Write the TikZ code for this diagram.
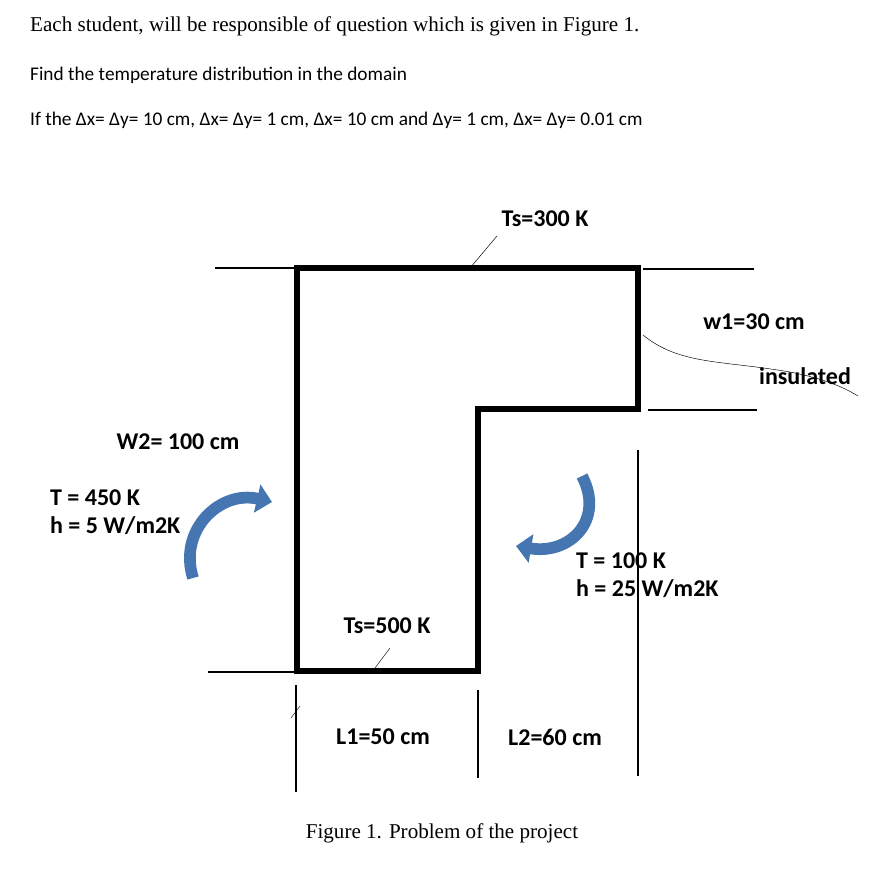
\documentclass[tikz,border=0pt]{standalone}
\usepackage{fontspec}
\setmainfont{Carlito}
\newfontfamily\timesfont{Liberation Serif}
\usepackage{xcolor}
\usetikzlibrary{arrows.meta}

\begin{document}
\begin{tikzpicture}[x=0.03cm,y=-0.03cm,
  label/.style={font=\fontsize{20.5}{24}\selectfont\bfseries},
  wall/.style={line width=4.5pt},
  edge/.style={line width=2.2pt},
  flow/.style={line width=10pt,draw=flowblue,-{Triangle[length=13pt,width=24pt]}}]
% Define colors
\definecolor{flowblue}{RGB}{70,118,178}

\useasboundingbox (0,0) rectangle (882,886);

% Task text
\node[anchor=west,font=\timesfont\fontsize{18}{21}\selectfont] (task) at (26,26) {Each student, will be responsible of question which is given in Figure 1.};
\node[anchor=west,font=\fontsize{16.5}{19}\selectfont] (find) at (26,75) {Find the temperature distribution in the domain};
\node[anchor=west,font=\fontsize{16.5}{19}\selectfont] (grid) at (26,120) {If the Δx= Δy= 10 cm, Δx= Δy= 1 cm, Δx= 10 cm and Δy= 1 cm, Δx= Δy= 0.01 cm};

% Domain
\draw[wall] (297,268) -- (638,268) -- (638,409) -- (478,409) -- (478,671) -- (297,671) -- cycle;
\draw[edge] (215,268) -- (297,268);
\draw[edge] (643,269) -- (754,269);
\draw[edge] (648,410) -- (757,410);
\draw[edge] (208,672) -- (297,672);
\draw[line width=1.6pt] (638,450) -- (638,776);
\draw[line width=1.6pt] (296,685) -- (296,792);
\draw[line width=1.6pt] (478,690) -- (478,778);
\draw[thin] (291,718) -- (300,706);

% Labels
\node[label] (ts300) at (545,219) {Ts=300 K};
\draw[thin] (470,268) -- (497,236);
\node[label] (w1) at (754,322) {w1=30 cm};
\node[label] (ins) at (805,376) {insulated};
\draw[thin] (643,335) .. controls (680,365) and (720,360) .. (790,372) .. controls (820,378) and (840,385) .. (858,396);
\node[label] (w2) at (178,442) {W2= 100 cm};
\node[label,anchor=west,align=left] (hleft) at (46,512) {T = 450 K\\h = 5 W/m2K};
\node[label,anchor=west,align=left] (hright) at (572,575) {T = 100 K\\h = 25 W/m2K};
\node[label] (ts500) at (387,626) {Ts=500 K};
\draw[thin] (372,672) -- (390,648);
\node[label] (l1) at (383,737) {L1=50 cm};
\node[label] (l2) at (555,737) {L2=60 cm};

% Convection arrows
\draw[flow] (193,578) .. controls (178,530) and (220,490) .. (272,502);
\draw[flow] (582,476) .. controls (605,520) and (570,555) .. (516,546);

% Caption
\node[font=\timesfont\fontsize{18}{21}\selectfont] (cap) at (442,833) {Figure 1. Problem of the project};
\end{tikzpicture}
\end{document}
